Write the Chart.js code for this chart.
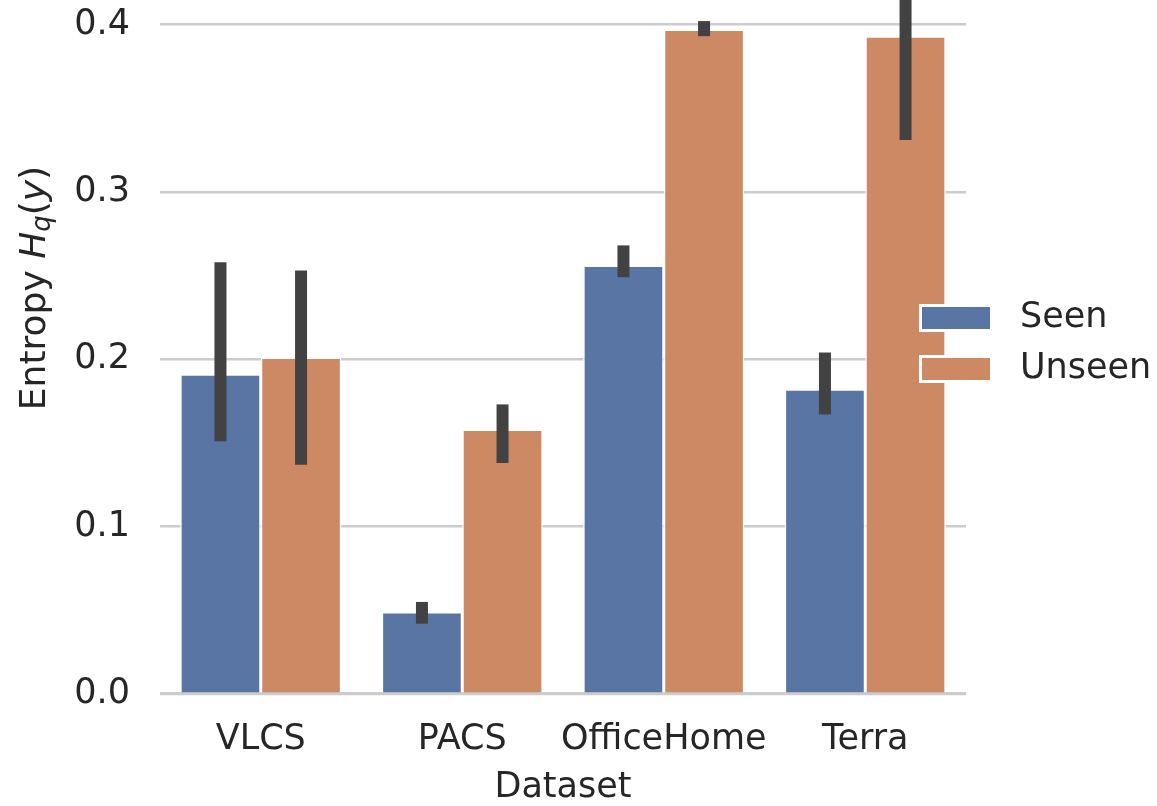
<!DOCTYPE html>
<html>
<head>
  <meta charset="UTF-8">
  <title>Entropy by dataset</title>
  <style type="text/css">
    html, body { margin: 0; padding: 0; background: #fff; }
    #chart-container { width: 1157px; height: 806px; }
  </style>
  <script type="text/javascript" src="https://cdn.jsdelivr.net/npm/chart.js@4.4.0/dist/chart.umd.min.js"></script>
</head>
<body>
<div id="chart-container">
  <canvas id="mycanvas" width="1157" height="806"></canvas>
</div>
<script>
// data
var datasets = ['VLCS', 'PACS', 'OfficeHome', 'Terra'];
var seen = [0.191, 0.049, 0.256, 0.182];
var unseen = [0.201, 0.158, 0.397, 0.393];
var seenLow = [0.151, 0.042, 0.249, 0.167];
var seenHigh = [0.258, 0.055, 0.268, 0.204];
var unseenLow = [0.137, 0.138, 0.393, 0.331];
var unseenHigh = [0.253, 0.173, 0.402, 0.450];
var yTicks = [0.0, 0.1, 0.2, 0.3, 0.4];

var blue = '#5975a4';
var orange = '#cc8963';
var errColor = '#424242';
var textColor = '#262626';
var font = "'DejaVu Sans', sans-serif";

var errorBars = {
  id: 'errorBars',
  afterDatasetsDraw: function(chart) {
    var ctx = chart.ctx;
    var y = chart.scales.y;
    var area = chart.chartArea;
    var lows = [seenLow, unseenLow];
    var highs = [seenHigh, unseenHigh];
    ctx.save();
    ctx.beginPath();
    ctx.rect(area.left, 0, area.right - area.left, area.bottom);
    ctx.clip();
    ctx.strokeStyle = errColor;
    ctx.lineWidth = 12;
    ctx.lineCap = 'butt';
    for (var d = 0; d < 2; d++) {
      var meta = chart.getDatasetMeta(d);
      meta.data.forEach(function(bar, i) {
        ctx.beginPath();
        ctx.moveTo(bar.x, y.getPixelForValue(lows[d][i]));
        ctx.lineTo(bar.x, y.getPixelForValue(highs[d][i]));
        ctx.stroke();
      });
    }
    ctx.restore();
  }
};

var titlesAndLegend = {
  id: 'titlesAndLegend',
  afterDraw: function(chart) {
    var ctx = chart.ctx;
    var area = chart.chartArea;
    ctx.save();
    ctx.fillStyle = textColor;
    ctx.textBaseline = 'middle';

    // x title
    ctx.font = '35px ' + font;
    ctx.textAlign = 'center';
    ctx.fillText('Dataset', (area.left + area.right) / 2, 788);

    // y title with math-style pieces
    var parts = [
      {t: 'Entropy ', f: '36px ' + font, dy: 0},
      {t: 'H', f: 'italic 36px ' + font, dy: 0},
      {t: 'q', f: 'italic 26px ' + font, dy: 7},
      {t: '(', f: '36px ' + font, dy: 0},
      {t: 'y', f: 'italic 36px ' + font, dy: 0},
      {t: ')', f: '36px ' + font, dy: 0}
    ];
    ctx.translate(36, 288);
    ctx.rotate(-Math.PI / 2);
    ctx.textAlign = 'left';
    var total = 0;
    parts.forEach(function(p) { ctx.font = p.f; total += ctx.measureText(p.t).width; });
    var x = -total / 2;
    parts.forEach(function(p) {
      ctx.font = p.f;
      ctx.fillText(p.t, x, p.dy);
      x += ctx.measureText(p.t).width;
    });
    ctx.restore();

    // legend
    ctx.save();
    var items = [{label: 'Seen', color: blue, y: 318}, {label: 'Unseen', color: orange, y: 369}];
    ctx.font = '35px ' + font;
    ctx.textBaseline = 'middle';
    items.forEach(function(it) {
      ctx.fillStyle = '#ffffff';
      ctx.fillRect(919, it.y - 14, 73, 28);
      ctx.fillStyle = it.color;
      ctx.fillRect(922, it.y - 11, 68, 22);
      ctx.fillStyle = textColor;
      ctx.fillText(it.label, 1020, it.y);
    });
    ctx.restore();
  }
};

function noPad(scale) {
  scale.paddingTop = 0;
  scale.paddingBottom = 0;
  scale.paddingLeft = 0;
  scale.paddingRight = 0;
}

var ctx = document.getElementById('mycanvas');

var chart = new Chart(ctx, {
  type: 'bar',
  data: {
    labels: datasets,
    datasets: [
      {
        label: 'Seen',
        data: seen,
        backgroundColor: blue,
        borderColor: '#ffffff',
        borderWidth: 1.5,
        borderSkipped: 'bottom'
      },
      {
        label: 'Unseen',
        data: unseen,
        backgroundColor: orange,
        borderColor: '#ffffff',
        borderWidth: 1.5,
        borderSkipped: 'bottom'
      }
    ]
  },
  options: {
    responsive: false,
    animation: false,
    devicePixelRatio: 1,
    layout: { padding: { left: 0, right: 191, top: 0, bottom: 0 } },
    plugins: {
      legend: { display: false },
      tooltip: { enabled: false }
    },
    datasets: {
      bar: { categoryPercentage: 0.8, barPercentage: 1.0 }
    },
    scales: {
      x: {
        grid: { display: false },
        border: { display: false },
        ticks: {
          color: textColor,
          font: { family: font, size: 35 },
          padding: 17,
          maxRotation: 0,
          autoSkip: false
        },
        afterFit: function(scale) { scale.height = 112; noPad(scale); }
      },
      y: {
        min: 0,
        max: 0.4146,
        afterBuildTicks: function(scale) {
          scale.ticks = yTicks.map(function(v) { return {value: v}; });
        },
        grid: {
          color: '#cccccc',
          lineWidth: function(c) { return c.tick && c.tick.value === 0 ? 3.2 : 2.6; },
          drawTicks: false
        },
        border: { display: false },
        ticks: {
          color: textColor,
          font: { family: font, size: 35 },
          padding: 30,
          callback: function(v) { return Number(v).toFixed(1); }
        },
        afterFit: function(scale) { scale.width = 160; noPad(scale); }
      }
    }
  },
  plugins: [errorBars, titlesAndLegend]
});
</script>
</body>
</html>
